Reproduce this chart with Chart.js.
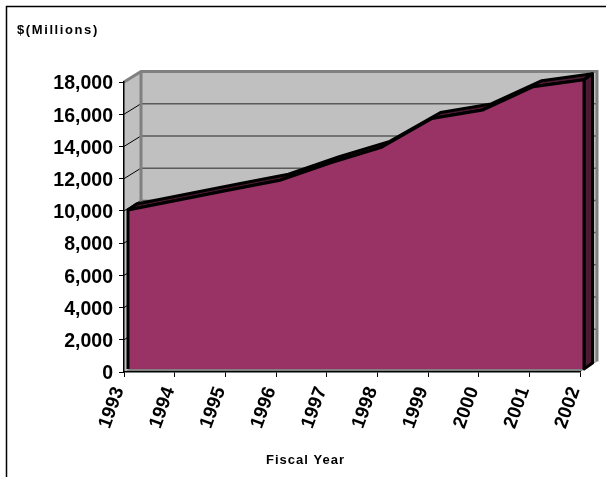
<!DOCTYPE html>
<html lang="en">
<head>
  <meta charset="UTF-8" />
  <title>Fiscal Year</title>
  <script src="https://cdn.jsdelivr.net/npm/chart.js"></script>
  <style>
    html, body { margin: 0; background: #fff; }
    #spendChart { display: block; }
  </style>
</head>
<body>

  <canvas id="spendChart" width="606" height="477"></canvas>

<script>

const years = ["1993", "1994", "1995", "1996", "1997", "1998", "1999", "2000", "2001", "2002"];
const spending = [9870, 10490, 11110, 11720, 12800, 13760, 15550, 16080, 17520, 17950];
const yTicks = [0, 2000, 4000, 6000, 8000, 10000, 12000, 14000, 16000, 18000];
const unitLabel = "$(Millions)";
const xTitle = "Fiscal Year";

const fontName = "'Liberation Sans', Arial, sans-serif";

// fake 3D depth, in pixels
const wallDx = 17, wallDy = -10.5;
const frontDx = 4, frontDy = -3;
const backDx = 12.5, backDy = -9;

function poly(ctx, pts) {
  ctx.beginPath();
  pts.forEach((p, i) => i ? ctx.lineTo(p[0], p[1]) : ctx.moveTo(p[0], p[1]));
  ctx.closePath();
}

const walls = {
  id: 'walls',
  beforeDraw(chart) {
    const ctx = chart.ctx, a = chart.chartArea;
    ctx.save();

    // outer frame, open on the right and at the bottom
    ctx.strokeStyle = '#000';
    ctx.lineWidth = 1.5;
    ctx.beginPath();
    ctx.moveTo(6.5, 477);
    ctx.lineTo(6.5, 6.5);
    ctx.lineTo(606, 6.5);
    ctx.stroke();

    const bl = [a.left + wallDx, a.bottom + wallDy];
    const tl = [a.left + wallDx, a.top + wallDy];
    const tr = [a.right + wallDx, a.top + wallDy];
    const br = [a.right + wallDx, a.bottom + wallDy];

    ctx.fillStyle = '#c0c0c0';
    poly(ctx, [[a.left, a.bottom], [a.left, a.top], tl, bl]);
    ctx.fill();
    poly(ctx, [tl, tr, br, bl]);
    ctx.fill();

    ctx.fillStyle = '#808080';
    poly(ctx, [[a.left, a.bottom], bl, br, [a.right, a.bottom]]);
    ctx.fill();

    // grid lines across the side wall and the back wall
    yTicks.slice(1, -1).forEach(v => {
      const y = chart.scales.y.getPixelForValue(v);
      ctx.strokeStyle = '#000';
      ctx.lineWidth = 1;
      ctx.beginPath();
      ctx.moveTo(a.left, y);
      ctx.lineTo(a.left + wallDx, y + wallDy);
      ctx.stroke();
      ctx.strokeStyle = '#5a5a5a';
      ctx.lineWidth = 1.5;
      ctx.beginPath();
      ctx.moveTo(a.left + wallDx, y + wallDy);
      ctx.lineTo(a.right + wallDx, y + wallDy);
      ctx.stroke();
    });

    ctx.strokeStyle = '#808080';
    ctx.lineWidth = 3;
    ctx.beginPath();
    ctx.moveTo(a.left, a.top);
    ctx.lineTo(tl[0], tl[1]);
    ctx.lineTo(tr[0], tr[1]);
    ctx.lineTo(br[0], br[1]);
    ctx.stroke();
    ctx.beginPath();
    ctx.moveTo(tl[0], tl[1]);
    ctx.lineTo(bl[0], bl[1]);
    ctx.stroke();
    ctx.restore();
  },
  beforeDatasetsDraw(chart) {
    const ctx = chart.ctx, a = chart.chartArea;
    const x = chart.scales.x, y = chart.scales.y;
    const top = spending.map((v, i) => [x.getPixelForValue(i), y.getPixelForValue(v)]);
    const last = top[top.length - 1];

    ctx.save();
    ctx.fillStyle = '#4d1a33';
    ctx.strokeStyle = '#000';
    ctx.lineWidth = 3;
    ctx.lineJoin = 'round';

    // top ridge of the area, from front edge to back edge
    poly(ctx, top.map(p => [p[0] + frontDx, p[1] + frontDy])
      .concat(top.slice().reverse().map(p => [p[0] + backDx, p[1] + backDy])));
    ctx.fill();
    ctx.stroke();

    // right end of the area
    poly(ctx, [
      [last[0] + frontDx, last[1] + frontDy],
      [last[0] + backDx, last[1] + backDy],
      [last[0] + backDx, a.bottom + backDy],
      [last[0] + frontDx, a.bottom + frontDy]
    ]);
    ctx.fill();
    ctx.stroke();
    ctx.restore();

    // the front face sits a little in front of the axes
    ctx.save();
    ctx.translate(frontDx, frontDy);
  },
  afterDatasetsDraw(chart) {
    const ctx = chart.ctx, a = chart.chartArea;
    const x = chart.scales.x, y = chart.scales.y;
    ctx.strokeStyle = '#000';
    ctx.lineWidth = 3;
    [0, spending.length - 1].forEach(i => {
      ctx.beginPath();
      ctx.moveTo(x.getPixelForValue(i), y.getPixelForValue(spending[i]));
      ctx.lineTo(x.getPixelForValue(i), a.bottom);
      ctx.stroke();
    });
    ctx.restore();
  },
  afterDraw(chart) {
    const ctx = chart.ctx;
    ctx.save();
    ctx.fillStyle = '#000';
    ctx.font = "bold 13px " + fontName;
    ctx.textBaseline = 'alphabetic';
    ctx.letterSpacing = '1.6px';
    ctx.fillText(unitLabel, 17, 34);
    ctx.letterSpacing = '1px';
    ctx.fillText(xTitle, 266, 464);
    ctx.restore();
  }
};

const chart = new Chart(document.getElementById('spendChart'), {
  type: 'line',
  data: {
    labels: years,
    datasets: [{
      data: spending,
      borderColor: '#000',
      borderWidth: 3,
      backgroundColor: '#993366',
      fill: 'origin',
      tension: 0,
      pointRadius: 0,
      clip: false
    }]
  },
  plugins: [walls],
  options: {
    responsive: false,
    animation: false,
    layout: { padding: { top: 82, right: 26 } },
    plugins: {
      legend: { display: false },
      tooltip: { enabled: false },
      title: { display: false }
    },
    scales: {
      x: {
        offset: false,
        afterFit: s => { s.height = 105; s.paddingLeft = 0; s.paddingRight = 0; },
        grid: { drawOnChartArea: false, color: '#000', tickLength: 5 },
        border: { color: '#000', width: 1.5 },
        ticks: {
          color: '#000',
          autoSkip: false,
          minRotation: 70,
          maxRotation: 70,
          padding: 7,
          labelOffset: -5,
          font: { family: fontName, size: 19, weight: 'bold' }
        }
      },
      y: {
        min: 0,
        max: 18000,
        afterFit: s => { s.width = 124; s.paddingTop = 0; s.paddingBottom = 0; },
        afterBuildTicks: s => { s.ticks = yTicks.map(v => ({ value: v })); },
        grid: { drawOnChartArea: false, color: '#000', tickLength: 5 },
        border: { color: '#000', width: 1.5 },
        ticks: {
          color: '#000',
          padding: 6,
          labelOffset: 2,
          font: { family: fontName, size: 19.5, weight: 'bold' },
          callback: v => v.toLocaleString('en-US')
        }
      }
    }
  }
});

</script>

</body>
</html>
